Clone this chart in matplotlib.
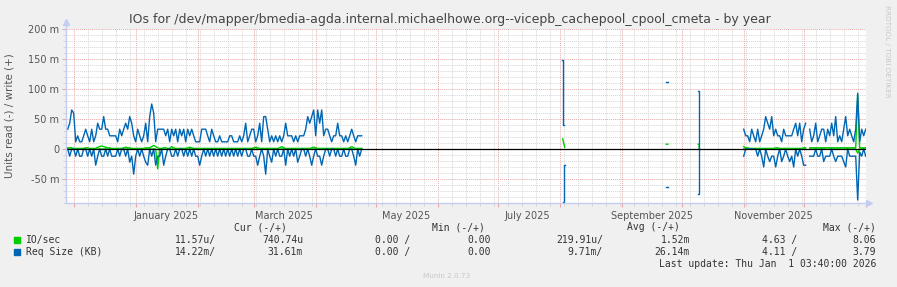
import numpy as np
import pandas as pd
import matplotlib
matplotlib.use('Agg')
import matplotlib.pyplot as plt
import matplotlib.dates as mdates

nan = np.nan

# munin "by year" window: 400 days ending at the last update
t_end = pd.Timestamp('2026-01-01 03:40')
t_start = t_end - pd.Timedelta(days=400)

# first block of daily samples (Nov 2024 - Apr 2025), values in milli-units
seg1_start = '2024-11-28'
req_write_1 = [
    33, 43, 65, 60, 12, 22, 12, 12, 22, 33,
    22, 12, 33, 12, 22, 43, 33, 33, 54, 33,
    33, 22, 22, 22, 22, 12, 33, 22, 33, 43,
    33, 54, 43, 22, 12, 33, 22, 12, 22, 43,
    12, 54, 75, 60, 12, 33, 33, 33, 33, 22,
    33, 12, 33, 22, 33, 12, 33, 22, 33, 12,
    33, 22, 33, 22, 12, 12, 12, 33, 33, 33,
    22, 12, 33, 22, 12, 12, 22, 12, 12, 12,
    12, 22, 22, 12, 12, 12, 22, 12, 22, 43,
    12, 22, 33, 33, 12, 22, 43, 12, 54, 54,
    33, 12, 22, 12, 22, 12, 22, 12, 22, 43,
    22, 22, 22, 12, 22, 12, 22, 22, 22, 33,
    54, 43, 54, 65, 22, 65, 43, 65, 22, 33,
    33, 22, 12, 22, 22, 43, 22, 22, 12, 22,
    12, 22, 33, 22, 12, 22, 22, 22]
req_read_1 = [
    0, 12, 0, 0, 12, 0, 12, 12, 0, 0,
    12, 0, 12, 0, 27, 12, 0, 12, 12, 0,
    12, 0, 12, 12, 12, 0, 12, 0, 0, 12,
    0, 22, 12, 42, 12, 0, 12, 0, 12, 22,
    27, 0, 12, 0, 27, 12, 12, 0, 27, 12,
    0, 0, 12, 12, 0, 12, 0, 0, 12, 0,
    12, 0, 12, 0, 12, 12, 27, 12, 0, 12,
    0, 12, 0, 12, 0, 12, 0, 12, 0, 12,
    0, 12, 0, 12, 0, 12, 0, 12, 0, 0,
    12, 12, 0, 12, 12, 27, 12, 0, 12, 42,
    0, 12, 22, 0, 12, 0, 12, 12, 0, 27,
    0, 12, 0, 12, 0, 22, 12, 0, 0, 12,
    0, 12, 27, 12, 0, 12, 12, 27, 12, 0,
    0, 12, 0, 0, 12, 0, 12, 12, 0, 12,
    12, 0, 0, 12, 27, 0, 12, 0]
io_write_1 = [
    2, 2, 2, 1, 1, 1, 1, 1, 1, 2,
    2, 1, 1, 1, 1, 3, 4, 5, 4, 3,
    2, 2, 1, 1, 1, 1, 1, 1, 2, 3,
    2, 2, 1, 1, 1, 1, 1, 1, 1, 2,
    2, 2, 4, 6, 4, 2, 1, 1, 2, 2,
    1, 1, 4, 2, 1, 1, 1, 1, 1, 1,
    2, 3, 2, 1, 1, 1, 1, 1, 1, 1,
    1, 1, 1, 1, 1, 1, 1, 1, 1, 1,
    1, 1, 1, 1, 1, 1, 1, 1, 1, 1,
    1, 1, 1, 2, 3, 2, 1, 1, 1, 1,
    1, 1, 1, 1, 1, 1, 2, 4, 2, 1,
    1, 1, 1, 1, 1, 1, 1, 1, 1, 1,
    1, 1, 2, 3, 2, 1, 1, 1, 1, 1,
    1, 1, 1, 1, 1, 1, 1, 1, 1, 1,
    1, 2, 4, 2, 1, 1, 1, 1]
io_read_1 = [
    0, 0, 0, 0, 0, 0, 0, 0, 0, 0,
    0, 0, 0, 0, 0, 0, 0, 0, 0, 0,
    0, 0, 0, 0, 0, 0, 0, 0, 0, 0,
    0, 0, 0, 0, 0, 0, 0, 0, 0, 0,
    0, 0, 0, 0, 0, 33, 0, 0, 0, 0,
    0, 0, 0, 0, 0, 0, 0, 0, 0, 0,
    0, 0, 0, 0, 0, 0, 0, 0, 0, 0,
    0, 0, 0, 0, 0, 0, 0, 0, 0, 0,
    0, 0, 0, 0, 0, 0, 0, 0, 0, 0,
    0, 0, 0, 0, 0, 0, 0, 0, 0, 0,
    0, 0, 0, 0, 0, 0, 0, 0, 0, 0,
    0, 0, 0, 0, 0, 0, 0, 0, 0, 0,
    0, 0, 0, 0, 0, 0, 0, 0, 0, 0,
    0, 0, 0, 0, 0, 0, 0, 0, 0, 0,
    0, 0, 0, 0, 0, 0, 0, 0]

# isolated samples in Aug / Sep / Oct 2025
spike_write_t = ['2025-08-02 06:00', '2025-08-02 18:00', '2025-08-02 18:00', '2025-08-03 06:00', None,
                 '2025-09-23 06:00', '2025-09-24 02:00', None,
                 '2025-10-09 06:00', '2025-10-09 18:00', '2025-10-09 18:00']
spike_write_v = [148, 148, 40, 40, nan, 111, 111, nan, 97, 97, 0]
spike_read_t = ['2025-08-03 10:00', '2025-08-03 00:00', '2025-08-03 00:00', '2025-08-02 14:00', None,
                '2025-09-23 06:00', '2025-09-24 02:00', None,
                '2025-10-09 18:00', '2025-10-09 18:00', '2025-10-09 06:00']
spike_read_v = [27, 27, 88, 88, nan, 63, 63, nan, 0, 75, 75]
spike_io_t = ['2025-08-02 12:00', '2025-08-03 12:00', None,
              '2025-09-23 06:00', '2025-09-24 02:00', None,
              '2025-10-09 06:00', '2025-10-09 18:00', '2025-10-09 18:00']
spike_io_v = [17, 3, nan, 8, 8, nan, 8, 8, 0]

# last block of daily samples (Nov - Dec 2025)
seg3_start = '2025-11-01'
req_write_3 = [
    33, 22, 22, 12, 33, 22, 12, 33, 12, 22,
    33, 54, 43, 33, 54, 22, 33, 22, 22, 12,
    33, 22, 22, 22, 22, 33, 43, 22, 43, 12,
    33, 43, nan, 33, 12, 22, 43, 12, 22, 33,
    33, 12, 33, 22, 43, 22, 54, 12, 22, 12,
    33, 54, 22, 33, 22, 12, 33, 93, 12, 33,
    22, 33]
req_read_3 = [
    12, 0, 0, 0, 0, 0, 0, 12, 0, 12,
    30, 0, 12, 21, 12, 12, 30, 12, 0, 21,
    12, 0, 12, 21, 12, 30, 0, 12, 0, 12,
    27, 27, nan, 12, 12, 12, 0, 12, 12, 0,
    21, 12, 12, 12, 0, 12, 21, 12, 12, 12,
    21, 30, 0, 12, 12, 12, 12, 85, 5, 12,
    0, 12]
io_write_3 = [
    4, 2, 2, 1, 1, 1, 1, 1, 1, 1,
    1, 1, 1, 1, 1, 1, 2, 2, 1, 1,
    1, 1, 1, 1, 1, 1, 1, 1, 1, 1,
    2, 2, nan, 2, 2, 2, 2, 2, 2, 2,
    2, 2, 2, 2, 2, 2, 2, 2, 2, 2,
    2, 2, 2, 2, 2, 2, 2, 90, 2, 2,
    2, 2]
io_read_3 = [
    0, 0, 0, 0, 0, 0, 0, 0, 0, 0,
    0, 0, 0, 0, 0, 0, 0, 0, 0, 0,
    0, 0, 0, 0, 0, 0, 0, 0, 0, 0,
    0, 0, nan, 0, 0, 0, 0, 0, 0, 0,
    0, 0, 0, 0, 0, 0, 0, 0, 0, 0,
    0, 0, 0, 0, 0, 0, 0, 7, 0, 0,
    0, 0]

month_labels = ['January 2025', 'March 2025', 'May 2025', 'July 2025',
                'September 2025', 'November 2025']
label_dates = ['2025-01-16', '2025-03-16', '2025-05-16', '2025-07-16',
               '2025-09-16', '2025-11-16']
y_ticks = [-50, 0, 50, 100, 150, 200]
y_labels = ['-50 m', '0', '50 m', '100 m', '150 m', '200 m']

legend_rows = [
    ('IO/sec', '#00CC00', ['11.57u/', '740.74u', '0.00 /', '0.00', '219.91u/', '1.52m', '4.63 /', '8.06']),
    ('Req Size (KB)', '#0066B3', ['14.22m/', '31.61m', '0.00 /', '0.00', '9.71m/', '26.14m', '4.11 /', '3.79']),
]
col_right = [216, 303, 410, 491, 603, 690, 797, 876]   # right edges in px
headers = [('Cur (-/+)', 287), ('Min (-/+)', 485), ('Avg (-/+)', 680), ('Max (-/+)', 876)]

GREEN = '#00CC00'
BLUE = '#0066B3'
W, H = 897, 287

fig = plt.figure(figsize=(W / 100, H / 100), dpi=100, facecolor='#F0F0F0')
ax = fig.add_axes([66 / W, 1 - 203 / H, 800 / W, 174 / H])
ax.set_facecolor('white')


def series(start, vals):
    return pd.date_range(start, periods=len(vals), freq='D'), np.array(vals, dtype=float)


def spikes(ts, vals):
    t = [pd.Timestamp(s) if s else pd.NaT for s in ts]
    return pd.to_datetime(t), np.array(vals, dtype=float)


lw = 1.0
for start, rw, rr, iw, ir in [(seg1_start, req_write_1, req_read_1, io_write_1, io_read_1),
                              (seg3_start, req_write_3, req_read_3, io_write_3, io_read_3)]:
    t, v = series(start, iw)
    ax.plot(t, v, color=GREEN, lw=lw, zorder=3)
    t, v = series(start, ir)
    ax.plot(t, -v, color=GREEN, lw=lw, zorder=3)
    t, v = series(start, rw)
    ax.plot(t, v, color=BLUE, lw=lw, zorder=4)
    t, v = series(start, rr)
    ax.plot(t, -v, color=BLUE, lw=lw, zorder=4)

t, v = spikes(spike_io_t, spike_io_v)
ax.plot(t, v, color=GREEN, lw=lw, zorder=3)
t, v = spikes(spike_write_t, spike_write_v)
ax.plot(t, v, color=BLUE, lw=lw, zorder=4)
t, v = spikes(spike_read_t, spike_read_v)
ax.plot(t, -v, color=BLUE, lw=lw, zorder=4)

ax.axhline(0, color='black', lw=0.9, zorder=5)

ax.set_xlim(t_start, t_end)
ax.set_ylim(-90, 200)

ax.xaxis.set_major_locator(mdates.MonthLocator())
ax.xaxis.set_minor_locator(mdates.WeekdayLocator(byweekday=mdates.SU))
ax.xaxis.set_major_formatter(plt.NullFormatter())
ax.set_yticks(y_ticks)
ax.set_yticklabels(y_labels)
ax.yaxis.set_minor_locator(plt.MultipleLocator(10))

ax.grid(which='major', color='#E6A8A8', linestyle=(0, (1, 1)), lw=0.7)
ax.grid(which='minor', color='#D6D6D6', linestyle=(0, (1, 1)), lw=0.7)
ax.set_axisbelow(True)
ax.tick_params(axis='y', which='major', length=3, color='#E6A8A8', labelsize=7, labelcolor='#555555', pad=2)
ax.tick_params(axis='y', which='minor', length=2, color='#D0D0D0')
ax.tick_params(axis='x', which='major', length=3, color='#E6A8A8', direction='out')
ax.tick_params(axis='x', which='minor', length=2, color='#D0D0D0')

for s in ax.spines.values():
    s.set_visible(False)

for lab, d in zip(month_labels, label_dates):
    ax.text(pd.Timestamp(d), -0.045, lab, transform=ax.get_xaxis_transform(),
            ha='center', va='top', fontsize=7, color='#555555')

# axis lines with arrows, as rrdtool draws them
axis_col = '#C4CCF2'
fig.add_artist(plt.Line2D([66 / W, 66 / W], [1 - 203 / H, 1 - 23 / H], color=axis_col, lw=1.0))
fig.add_artist(plt.Line2D([66 / W, 868 / W], [1 - 203 / H, 1 - 203 / H], color=axis_col, lw=1.0))
fig.add_artist(plt.Line2D([66 / W], [1 - 22 / H], marker='^', ms=4, color=axis_col, lw=0))
fig.add_artist(plt.Line2D([869 / W], [1 - 203 / H], marker='>', ms=4, color=axis_col, lw=0))

fig.text(450 / W, 1 - 19 / H,
         'IOs for /dev/mapper/bmedia-agda.internal.michaelhowe.org--vicepb_cachepool_cpool_cmeta - by year',
         ha='center', va='center', fontsize=9.0, color='#444444')
fig.text(10 / W, 1 - 116 / H, 'Units read (-) / write (+)', rotation=90,
         ha='center', va='center', fontsize=7.5, color='#555555')
fig.text(887 / W, 1 - 5 / H, 'RRDTOOL / TOBI OETIKER', rotation=270,
         ha='center', va='top', fontsize=5.2, color='#C8C8C8')

mono = dict(family='DejaVu Sans Mono', fontsize=7, color='#333333', va='center')
for txt, xr in headers:
    fig.text(xr / W, 1 - 227 / H, txt, ha='right', **mono)
for k, (name, col, vals) in enumerate(legend_rows):
    y = 240 + 12 * k
    fig.patches.append(plt.Rectangle((14 / W, 1 - (y + 3) / H), 6 / W, 6 / H,
                                     transform=fig.transFigure, color=col, figure=fig))
    fig.text(26 / W, 1 - y / H, name, ha='left', **mono)
    for v, xr in zip(vals, col_right):
        fig.text(xr / W, 1 - y / H, v, ha='right', **mono)
fig.text(876 / W, 1 - 264 / H, 'Last update: Thu Jan  1 03:40:00 2026', ha='right', **mono)
fig.text(447 / W, 1 - 276 / H, 'Munin 2.0.73', ha='center', va='center', fontsize=5.2, color='#C8C8C8')

fig.savefig('out.png', dpi=100, facecolor=fig.get_facecolor())
